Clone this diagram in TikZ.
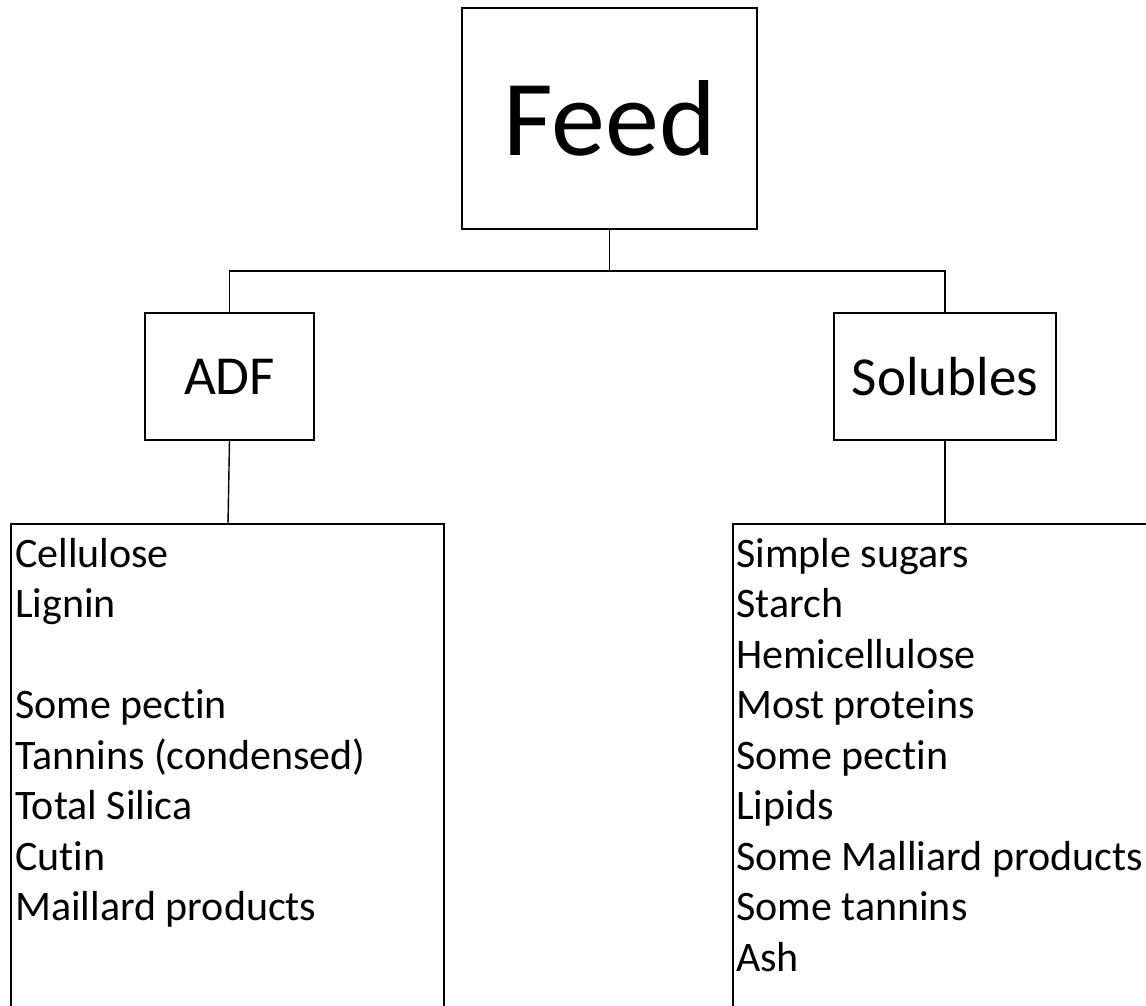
\documentclass[tikz,border=0pt]{standalone}
\usepackage{fontspec}
\setmainfont[Ligatures=NoCommon]{Carlito}
\begin{document}
\begin{tikzpicture}[x=1pt,y=-1pt,
  box/.style={draw=black, line width=1.4pt, inner sep=0pt},
  conn/.style={draw=black, line width=1.4pt},
  bigtext/.style={font=\fontsize{108}{130}\selectfont},
  midtext/.style={font=\fontsize{55}{66}\selectfont},
  listtext/.style={font=\fontsize{42}{50.5}\selectfont, align=left, inner sep=0pt, anchor=base west}]
\useasboundingbox (0,0) rectangle (1146,1006);
\clip (0,0) rectangle (1146,1006);
\node[box, bigtext, minimum width=295pt, minimum height=221pt] (feed) at (609.5,118.5) {Feed};
\node[box, midtext, minimum width=169pt, minimum height=127pt] (adf) at (229.5,376.5) {ADF};
\node[box, midtext, minimum width=222pt, minimum height=127pt] (sol) at (945,376.5) {Solubles};
\node[box, minimum width=433pt, minimum height=506pt] (adflist) at (227.5,777) {};
\node[box, minimum width=437pt, minimum height=506pt] (sollist) at (951.5,777) {};
% base anchor is the baseline of the last line
\node[listtext] (adfitems) at (15,920.5) {Cellulose\\Lignin\\\mbox{}\\Some pectin\\Tannins (condensed)\\Total Silica\\Cutin\\Maillard products};
\node[listtext] (solitems) at (736,971) {Simple sugars\\Starch\\Hemicellulose\\Most proteins\\Some pectin\\Lipids\\Some Malliard products\\Some tannins\\Ash};
\coordinate (bus) at (609.5,271);
\coordinate (adfin) at (228,524);
\draw[conn] (feed.south) -- (bus);
\draw[conn] (bus) -| (adf.north);
\draw[conn] (bus) -| (sol.north);
\draw[conn] (adf.south) -- (adfin);
\draw[conn] (sol.south) -- (sol.south |- sollist.north);
\end{tikzpicture}
\end{document}
